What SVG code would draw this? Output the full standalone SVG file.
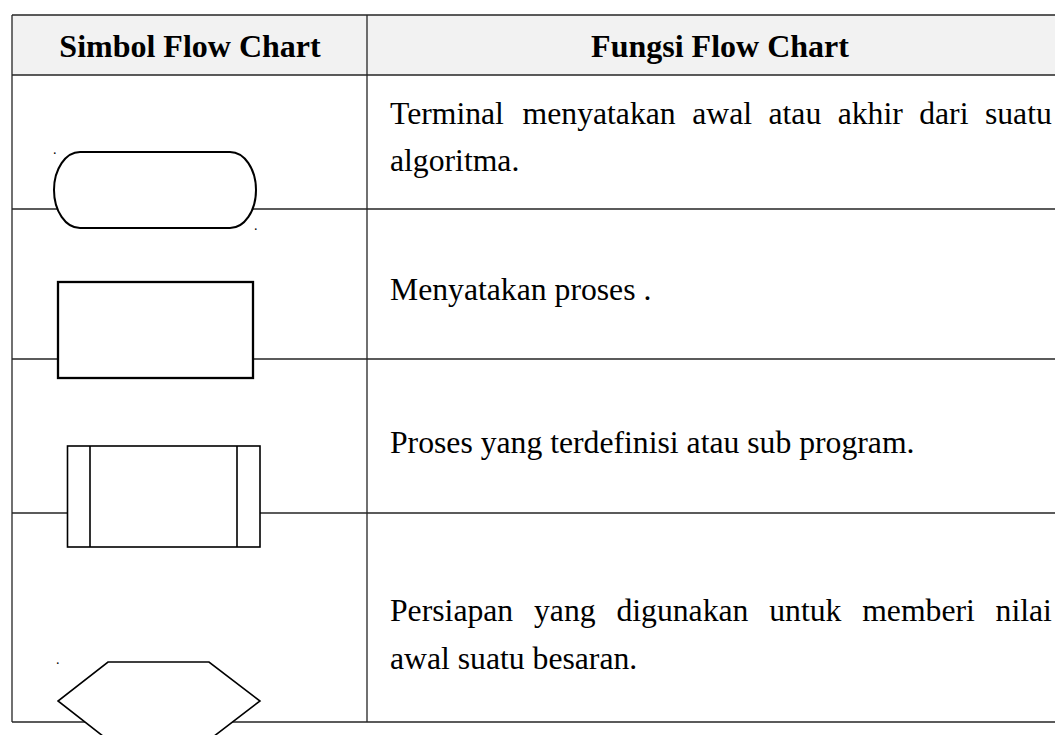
<svg xmlns="http://www.w3.org/2000/svg" width="1055" height="735" viewBox="0 0 1055 735">
<style>
.grid{stroke:#262626;stroke-width:1.3;fill:none}
.hdr{font-family:"Liberation Serif","Times New Roman",serif;font-size:32px;font-weight:bold;fill:#000;text-anchor:middle}
.body{font-family:"Liberation Serif","Times New Roman",serif;font-size:31.7px;fill:#000}
.sym{fill:#fff;stroke:#000}
.dot{font-family:"Liberation Serif","Times New Roman",serif;font-size:14px;fill:#000}
</style>
<rect width="1055" height="735" fill="#fff"/>
<g id="table">
<rect x="12" y="15" width="1050" height="60" fill="#f2f2f2"/>
<path class="grid" d="M12,15 H1060 M12,75 H1060 M12,209 H1060 M12,359 H1060 M12,513 H1060 M12,722 H1060 M12,15 V722 M367,15 V722"/>
<text class="hdr" x="190" y="57">Simbol Flow Chart</text>
<text class="hdr" x="720" y="57">Fungsi Flow Chart</text>
</g>
<g id="row-terminal">
<path class="sym" stroke-width="2" d="M80,152 H230 A26,38 0 0 1 230,228 H80 A26,38 0 0 1 80,152 Z"/>
<text class="dot" x="53" y="154">.</text>
<text class="dot" x="254" y="230">.</text>
<text class="body" y="124"><tspan x="390">Terminal</tspan><tspan x="522.6">menyatakan</tspan><tspan x="692.2">awal</tspan><tspan x="768.5">atau</tspan><tspan x="837.7">akhir</tspan><tspan x="919.2">dari</tspan><tspan x="984.9">suatu</tspan></text>
<text class="body" x="390" y="171">algoritma.</text>
</g>
<g id="row-process">
<rect class="sym" stroke-width="2.3" x="58" y="282" width="195" height="96"/>
<text class="body" x="390" y="300">Menyatakan proses .</text>
</g>
<g id="row-predefined">
<rect class="sym" stroke-width="1.6" x="67.5" y="446" width="192.5" height="101"/>
<path class="sym" stroke-width="1.6" d="M90,446 V547 M237,446 V547"/>
<text class="body" x="390" y="453">Proses yang terdefinisi atau sub program.</text>
</g>
<g id="row-preparation">
<polygon class="sym" stroke-width="1.6" points="108,662 209,662 260,701 209,740 108,740 58,701"/>
<text class="dot" x="56" y="664">.</text>
<text class="body" y="621"><tspan x="390">Persiapan</tspan><tspan x="534">yang</tspan><tspan x="616.4">digunakan</tspan><tspan x="769.2">untuk</tspan><tspan x="862.2">memberi</tspan><tspan x="995.6">nilai</tspan></text>
<text class="body" x="390" y="669">awal suatu besaran.</text>
</g>
<g id="connectors"></g>
</svg>
